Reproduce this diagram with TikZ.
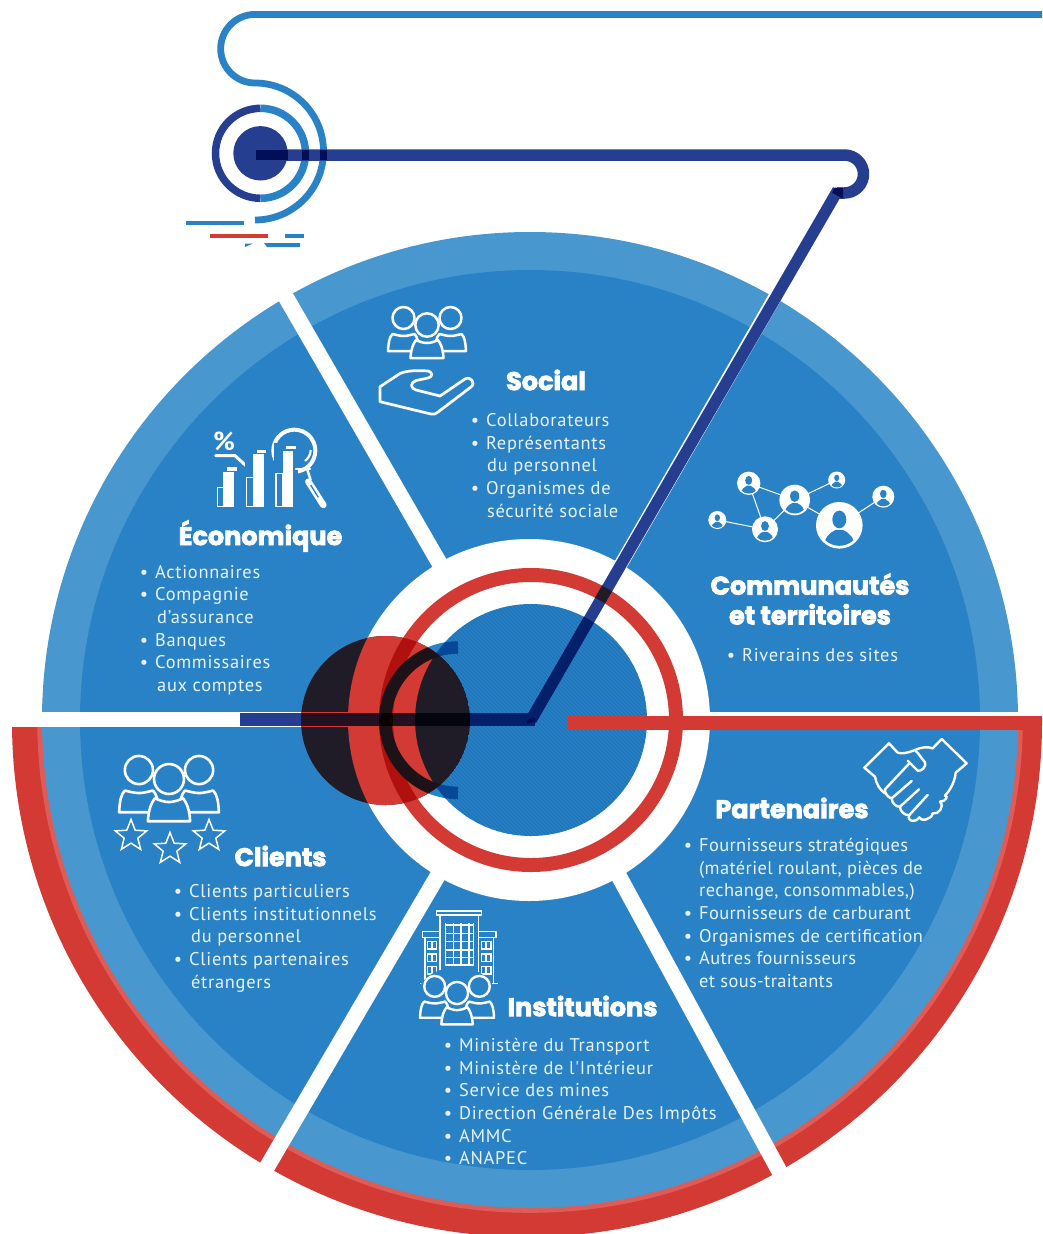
\documentclass[tikz,border=0pt]{standalone}
\usepackage{fontspec}
\usetikzlibrary{shapes.geometric}
\newfontfamily\bodyf[LetterSpace=3.8]{PT Sans}
\newfontfamily\bodyg[LetterSpace=2.0]{PT Sans}
\newfontfamily\titlef[FakeBold=3]{Poppins}
\definecolor{blueA}{HTML}{2A82C6}
\definecolor{blueL}{HTML}{4997CF}
\definecolor{blueD}{HTML}{05489A}
\definecolor{redA}{HTML}{D33A33}
\definecolor{redL}{HTML}{DE5C57}
\definecolor{redD}{HTML}{B0110E}
\definecolor{navy}{HTML}{263E90}
\definecolor{navyD}{HTML}{05206B}
\definecolor{navyK}{HTML}{020E58}
\definecolor{darkC}{HTML}{201C27}
\definecolor{darkA}{HTML}{1C1218}
\definecolor{barM}{HTML}{251020}
\definecolor{bodyc}{HTML}{E8F2FA}
\tikzset{
  bodytxt/.style={font=\bodyf\fontsize{18.4}{22.6}\selectfont,text=bodyc,align=left,anchor=north west,inner sep=0pt},
  bodytxtg/.style={bodytxt,font=\bodyg\fontsize{18.4}{22.6}\selectfont},
  titletxt/.style={font=\titlef\bfseries\fontsize{25.5}{30}\selectfont,text=white,align=center,anchor=center,inner sep=0pt},
  icon/.style={draw=white,line width=2.4pt,line join=round,line cap=round},
  thinicon/.style={draw=white,line width=1.5pt,line join=round,line cap=round},
  startip/.style={star,star points=5,star point ratio=2.3,draw=white,line width=1.5pt,minimum size=33pt,inner sep=0pt},
}
\newcommand{\manbody}{(-15.5,33) .. controls (-15,24) and (-14,19) .. (-11,16) .. controls (-7,17) and (-3,18) .. (0,18) .. controls (3,18) and (7,17) .. (11,16) .. controls (14,19) and (15,24) .. (15.5,33) -- cycle}
\newcommand{\grpicon}[4]{%
\begin{scope}[shift={(#1,#2)},scale=#3]
  \begin{scope}[shift={(-23.5,-7)}]
    \draw[icon,fill=blueA,line width=#4] \manbody; \draw[icon,fill=blueA,line width=#4] (0,0) circle (11);
  \end{scope}
  \begin{scope}[shift={(23.5,-7)}]
    \draw[icon,fill=blueA,line width=#4] \manbody; \draw[icon,fill=blueA,line width=#4] (0,0) circle (11);
  \end{scope}
  \draw[icon,fill=blueA,line width=#4] (-16.5,33) .. controls (-16,24) and (-14,19) .. (-11,15) .. controls (-7,17) and (-3,18) .. (0,18) .. controls (3,18) and (7,17) .. (11,15) .. controls (14,19) and (16,24) .. (16.5,33) -- cycle;
  \draw[icon,fill=blueA,line width=#4] (0,0) circle (11.7);
\end{scope}}
\newcommand{\netnode}[3]{%
\begin{scope}[shift={(#1,#2)},scale=#3]
  \fill[white] (0,0) circle (1);
  \begin{scope}
    \clip (0,0) circle (0.88);
    \fill[blueA] (0,-0.25) ellipse (0.30 and 0.38);
    \fill[blueA] (-0.66,1) .. controls (-0.66,0.52) and (-0.42,0.32) .. (-0.16,0.2) -- (0.16,0.2) .. controls (0.42,0.32) and (0.66,0.52) .. (0.66,1) -- cycle;
  \end{scope}
\end{scope}}
\begin{document}
\begin{tikzpicture}[x=1pt,y=-1pt]
\useasboundingbox (0,0) rectangle (1042,1234);
\clip (0,0) rectangle (1042,1234);
% ---- top figure
\draw[blueA,line width=6.8pt] (1042,14.4) -- (255,14.4) arc[start angle=-90,end angle=-270,radius=34.3] arc[start angle=-90,end angle=90,radius=68.5];
\draw[navy,line width=7.5pt] (260.5,108.3) arc[start angle=-90,end angle=-270,radius=45];
\draw[blueA,line width=7.5pt] (260.5,108.3) arc[start angle=-90,end angle=90,radius=45];
\fill[navy] (260.5,153.3) circle (27.2);
\fill[blueA] (186,221) rectangle (244,225);
\fill[redA] (210,234) rectangle (268,238);
\fill[blueA] (285,234) rectangle (304,238);
\fill[blueA] (245,243.5) -- (253,243.5) -- (245,247) -- cycle;
\fill[blueA] (264,243) -- (300,243) -- (300,247) -- (267,247) -- cycle;
% ---- wheel
\begin{scope}
  \clip (0,716) rectangle (1042,1234);
  \fill[redA] (527,722) circle (515);
  \fill[redL] (530,720) circle (492.8);
\end{scope}
\fill[blueL] (530,720) circle (488);
\fill[blueA] (530,720) circle (450);
\draw[white,line width=16pt] (530,720) -- (265,261);
\draw[white,line width=16pt] (529,720) -- (250,1196);
\draw[white,line width=16pt] (534,720) -- (795,1200);
\fill[white] (0,712) rectangle (530,727);
\fill[white] (530,712) rectangle (1042,716);
\draw[white,line width=13.5pt] (531,720) -- (775,297);
\fill[white] (529,720) circle (181);
% C arc under
\draw[blueA,line width=12.5pt] (458,647.5) arc[start angle=-90,end angle=-270,radius=72.7];
% inner disc
\fill[blueA] (531,720) circle (116);
\begin{scope}
  \clip (531,720) circle (116);
  \foreach \i in {-240,-236,...,240} \draw[blueD,opacity=0.28,line width=1.2pt] ({531+\i-120},600) -- ({531+\i+120},840);
  \draw[blueD,line width=12.5pt] (458,647.5) arc[start angle=-90,end angle=-270,radius=72.7];
\end{scope}
% red ring
\draw[redA,line width=14pt] (531,720) circle (145);
% red bar
\fill[redA] (568,716) rectangle (1042,729.6);
% navy path
\draw[navy,line width=11.5pt,line join=round] (256,155) -- (844.5,155) arc[start angle=-90,end angle=90,radius=19] -- (837,193);
\draw[navy,line width=11.5pt] (838,190) -- (531,720);
\fill[navyK] (835,187.5) -- (843,187.5) -- (843,198) -- (841.5,198) -- (832,192.5) -- cycle;
\draw[navyK,line width=10.8pt] (256,155) -- (287.7,155);
\draw[navyK,line width=10.8pt] (301.7,155) -- (309.3,155);
\draw[navyK,line width=10.8pt] (319.8,155) -- (326.7,155);
\draw[navyD,line width=11.5pt] (589,619.5) -- (531,720);
\draw[darkC,line width=11.5pt] (600,600.5) -- (607,588.4);
\fill[navy] (240,713) rectangle (535,726);
\fill[navyD] (415,713) rectangle (535,726);
\draw[navyK,line width=4pt] (527,722.5) -- (535,719);
% dark circle and what shows through it
\begin{scope}
  \clip (385.5,720.5) circle (84.5);
  \fill[darkC] (385.5,720.5) circle (84.5);
  \fill[redA,even odd rule] (531,720) circle (183) (531,720) circle (116);
  \draw[redD,line width=14pt] (531,720) circle (145);
  \draw[darkA,line width=12.5pt] (458,647.5) arc[start angle=-90,end angle=-270,radius=72.7];
  \fill[redA] (301,712.2) rectangle (348,727);
  \fill[barM] (301,713) rectangle (379,726);
  \fill[black!95!red] (379,713) rectangle (393,726);
  \fill[barM] (393,713) rectangle (415,726);
  \fill[black!90!navy] (415,713) rectangle (470,726);
\end{scope}
% ---- texts
\node[titletxt] (tsocial) at (546,380) {Social};
\node[bodytxt] (lsocial) at (486,410.7) {\strut\llap{•\hspace{7pt}}Collaborateurs\\\llap{•\hspace{7pt}}Représentants\\\hspace{1pt}du personnel\\\llap{•\hspace{7pt}}Organismes de\\\hspace{1pt}sécurité sociale};
\node[titletxt] (teco) at (260.5,536) {Économique};
\node[bodytxt] (leco) at (155,562.2) {\strut\llap{•\hspace{7pt}}Actionnaires\\\llap{•\hspace{7pt}}Compagnie\\\hspace{2pt}d’assurance\\\llap{•\hspace{7pt}}Banques\\\llap{•\hspace{7pt}}Commissaires\\\hspace{2pt}aux comptes};
\node[titletxt] (tcom) at (810,599) {Communautés\\[-0.2pt]et territoires};
\node[bodytxt] (lcom) at (742,645.7) {\strut\llap{•\hspace{7pt}}Riverains des sites};
\node[titletxt] (tpar) at (792,808) {Partenaires};
\node[bodytxtg] (lpar) at (699,835.7) {\strut\llap{•\hspace{7pt}}Fournisseurs stratégiques\\(matériel roulant, pièces de\\rechange, consommables,)\\\llap{•\hspace{7pt}}Fournisseurs de carburant\\\llap{•\hspace{7pt}}Organismes de certification\\\llap{•\hspace{7pt}}Autres fournisseurs\\et sous-traitants};
\node[titletxt] (tins) at (582.5,1006) {Institutions};
\node[bodytxt] (lins) at (459,1035.7) {\strut\llap{•\hspace{7pt}}Ministère du Transport\\\llap{•\hspace{7pt}}Ministère de l'Intérieur\\\llap{•\hspace{7pt}}Service des mines\\\llap{•\hspace{7pt}}Direction Générale Des Impôts\\\llap{•\hspace{7pt}}AMMC\\\llap{•\hspace{7pt}}ANAPEC};
\node[titletxt] (tcli) at (280.5,856) {Clients};
\node[bodytxt] (lcli) at (189,881.7) {\strut\llap{•\hspace{7pt}}Clients particuliers\\\llap{•\hspace{7pt}}Clients institutionnels\\\hspace{2pt}du personnel\\\llap{•\hspace{7pt}}Clients partenaires\\\hspace{2pt}étrangers};
% ---- icons: social
\grpicon{427}{325}{1}{2.5pt}
\draw[icon,line width=2.7pt] (380,386.7) -- (400,373.5) .. controls (408,370) and (420,370.5) .. (428,371) .. controls (433,372) and (433,377) .. (428,378) -- (416,380.5) .. controls (410,383) and (410,388) .. (416,390) -- (440,396) -- (465,379) .. controls (471,376) and (476,383) .. (471,387) -- (438,412) .. controls (436,414) and (434,414.5) .. (431,414) -- (380,401.7) -- cycle;
% economics
\begin{scope}[shift={(200,290)},scale=1/3]
  \draw[white,line width=4pt] (283,482) circle (63);
  \draw[white,line width=3pt,line cap=round] (47,497) -- (105,497) -- (150,538);
  \node[inner sep=0pt,text=white,font=\fontspec{PT Sans}\bfseries\fontsize{26}{26}\selectfont] (pct) at (72,455) {\%};
  \foreach \xa/\xb/\xc/\xd/\xe/\ya/\yb/\yc in {52/70/103/82/110/592/545/532,140/160/192/170/198/562/492/480,228/248/280/258/288/550/483/468}{
    \fill[blueA] (\xa-6,\yc-8) rectangle (\xe+6,655);
    \draw[white,line width=1.2pt] (\xa,\ya) rectangle (\xb,650);
    \fill[white] (\xb,\yb) -- (\xc,\yb) -- (\xc,650) -- (\xb,650) -- cycle;
    \fill[white] (\xd,\yc) rectangle (\xe,\yc+10);
  }
  \draw[white,line width=2.2pt] (332,480) arc[start angle=0,end angle=55,radius=40];
  \draw[white,line width=2.2pt,line cap=round] (288,538) -- (330,538);
  \draw[white,line width=2.5pt] (322,540) -- (332,570);
  \draw[white,line width=6.5pt,line cap=round] (325,575) -- (370,645);
  \draw[blueA,line width=1.3pt] (332,585) -- (355,622);
\end{scope}
% network
\draw[white,line width=1pt] (748.7,483.3) -- (794.7,500) -- (836.7,480);
\draw[white,line width=1pt] (794.7,500) -- (839.3,525.3) -- (883.3,496.7);
\draw[white,line width=1pt] (748.7,483.3) -- (765,529.3) -- (794.7,500);
\draw[white,line width=1pt] (717.3,520) -- (765,529.3);
\netnode{748.7}{483.3}{11.7}
\netnode{794.7}{500}{15.3}
\netnode{836.7}{480}{8.5}
\netnode{883.3}{496.7}{11}
\netnode{717.3}{520}{9}
\netnode{765}{529.3}{13}
\netnode{839.3}{525.3}{23.3}
% handshake
\begin{scope}[shift={(850,730)},scale=1/3]
  \draw[icon] (105,190) .. controls (90,180) and (80,165) .. (75,140) -- (43,113) -- (117,40) -- (143,68) .. controls (155,72) and (170,70) .. (195,60) .. controls (215,50) and (235,50) .. (248,55) -- (275,27) -- (350,100) -- (317,128) .. controls (315,150) and (305,175) .. (285,197);
  \draw[icon] (195,60) .. controls (205,70) and (215,85) .. (225,97) .. controls (230,110) and (215,125) .. (203,122) -- (173,92);
  \draw[icon] (178,100) -- (105,178) .. controls (102,190) and (118,205) .. (125,205) -- (185,153);
  \draw[icon] (125,205) .. controls (125,220) and (140,232) .. (150,230) -- (207,178);
  \draw[icon] (150,230) .. controls (150,245) and (165,257) .. (178,255) -- (233,195);
  \draw[icon] (178,255) .. controls (170,275) and (195,280) .. (208,262) .. controls (210,275) and (245,270) .. (248,250) .. controls (265,255) and (285,230) .. (270,215) .. controls (290,215) and (295,195) .. (285,197);
\end{scope}
% clients
\grpicon{169}{779}{1.28}{2.6pt}
\node[startip] (st1) at (131,836) {};
\node[startip] (st2) at (170,849) {};
\node[startip] (st3) at (209,836) {};
% institutions
\begin{scope}[shift={(400,900)},scale=1/3]
  \draw[thinicon] (110,33) rectangle (245,45);
  \draw[thinicon] (120,45) -- (120,215);
  \draw[thinicon] (235,45) -- (235,215);
  \foreach \xx in {137,160,183,207,220} \draw[white,line width=1.3pt] (\xx,70) -- (\xx,195);
  \foreach \yy in {75,100,125,150,172,195} \draw[white,line width=1.3pt] (135,\yy) -- (222,\yy);
  \draw[thinicon] (67,95) rectangle (120,113);
  \draw[thinicon] (235,95) rectangle (288,113);
  \draw[thinicon] (75,113) -- (75,250);
  \draw[thinicon] (280,113) -- (280,250);
  \foreach \yy in {125,162,200} {
    \draw[white,line width=1.2pt] (82,\yy) rectangle (95,\yy+22);
    \draw[white,line width=1.2pt] (97,\yy) rectangle (110,\yy+22);
    \draw[white,line width=1.2pt] (245,\yy) rectangle (258,\yy+22);
    \draw[white,line width=1.2pt] (260,\yy) rectangle (273,\yy+22);
  }
  \draw[white,line width=1.3pt] (60,250) -- (295,250);
  \fill[blueA] (170,290) ellipse (118 and 88);
\end{scope}
\grpicon{457}{993}{0.95}{2.4pt}
\end{tikzpicture}
\end{document}
